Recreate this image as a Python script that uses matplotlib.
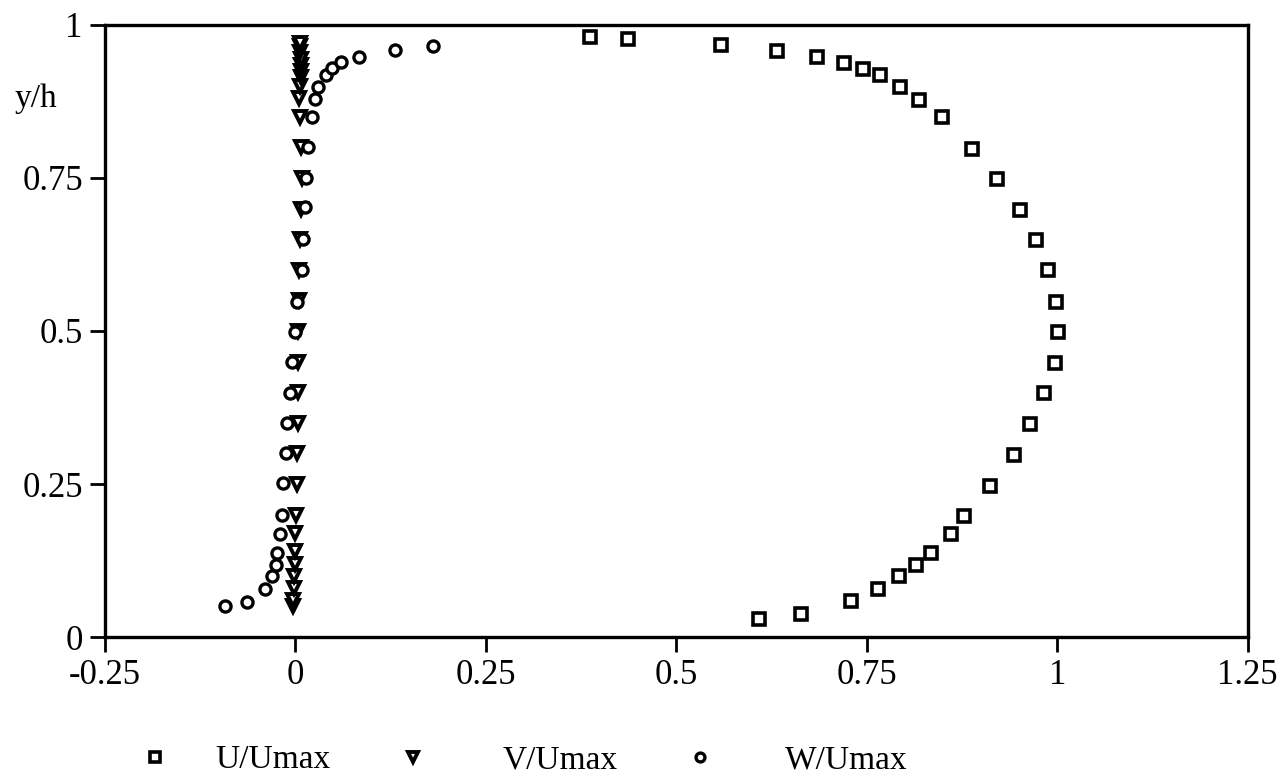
import matplotlib
matplotlib.use("Agg")
import matplotlib.pyplot as plt

plt.rcParams["font.family"] = ["Liberation Serif", "DejaVu Serif"]

# U/Umax profile (squares)
u_y = [0.980, 0.977, 0.967, 0.957, 0.947, 0.937, 0.928, 0.918, 0.898, 0.877,
       0.849, 0.798, 0.748, 0.698, 0.649, 0.600, 0.548, 0.499, 0.448, 0.398,
       0.348, 0.297, 0.247, 0.198, 0.168, 0.138, 0.118, 0.099, 0.078, 0.059,
       0.038, 0.029]
u_x = [0.386, 0.437, 0.559, 0.632, 0.684, 0.720, 0.745, 0.767, 0.794, 0.818,
       0.849, 0.888, 0.921, 0.951, 0.972, 0.988, 0.998, 1.001, 0.997, 0.983,
       0.964, 0.943, 0.912, 0.878, 0.860, 0.834, 0.814, 0.792, 0.765, 0.729,
       0.663, 0.609]

# V/Umax profile (triangles)
v_y = [0.05, 0.06, 0.08, 0.10, 0.12, 0.14, 0.17, 0.20, 0.25, 0.30, 0.35, 0.40,
       0.45, 0.50, 0.55, 0.60, 0.65, 0.70, 0.75, 0.80, 0.85, 0.88, 0.90, 0.915,
       0.925, 0.935, 0.945, 0.955, 0.965, 0.97]
v_x = [-0.003, -0.003, -0.002, -0.002, -0.001, -0.001, 0.000, 0.001, 0.002,
       0.002, 0.003, 0.003, 0.003, 0.003, 0.004, 0.005, 0.006, 0.007, 0.008,
       0.007, 0.006, 0.005, 0.006, 0.007, 0.007, 0.007, 0.007, 0.006, 0.006,
       0.006]

# W/Umax profile (circles)
w_y = [0.050, 0.058, 0.078, 0.100, 0.118, 0.138, 0.168, 0.199, 0.251, 0.300,
       0.349, 0.398, 0.450, 0.499, 0.548, 0.600, 0.650, 0.702, 0.750, 0.801,
       0.850, 0.879, 0.899, 0.918, 0.929, 0.939, 0.948, 0.959, 0.966]
w_x = [-0.092, -0.064, -0.040, -0.031, -0.025, -0.024, -0.020, -0.018, -0.016,
       -0.012, -0.011, -0.007, -0.005, 0.000, 0.002, 0.008, 0.0105, 0.013,
       0.014, 0.017, 0.0215, 0.026, 0.030, 0.040, 0.048, 0.060, 0.084, 0.131,
       0.181]

x_ticks = [-0.25, 0, 0.25, 0.5, 0.75, 1, 1.25]
x_labels = ["-0.25", "0", "0.25", "0.5", "0.75", "1", "1.25"]
y_ticks = [0, 0.25, 0.5, 0.75, 1]
y_labels = ["0", "0.25", "0.5", "0.75", "1"]

fig = plt.figure(figsize=(12.81, 7.76), dpi=100)
ax = fig.add_axes([0.082, 0.179, 0.892, 0.789])

style = dict(linestyle="none", color="black", markerfacecolor="white")
lu, = ax.plot(u_x, u_y, marker="s", markersize=8.5, markeredgewidth=2.6,
              label="U/Umax", **style)
lv, = ax.plot(v_x, v_y, marker="v", markersize=8.5, markeredgewidth=2.8,
              label="V/Umax", **style)
lw, = ax.plot(w_x, w_y, marker="o", markersize=8, markeredgewidth=2.4,
              label="W/Umax", **style)

ax.set_xlim(-0.25, 1.25)
ax.set_ylim(0, 1)
ax.set_xticks(x_ticks)
ax.set_xticklabels(x_labels)
ax.set_yticks(y_ticks)
ax.set_yticklabels(y_labels)
ax.tick_params(direction="out", length=11, width=2, labelsize=25, pad=5,
               top=False, right=False)
for sp in ax.spines.values():
    sp.set_linewidth(2.4)

fig.text(36 / 1281, 1 - 99 / 776, "y/h", fontsize=24, ha="center", va="center")

# legend entries spread along the bottom, one legend per series
for line, x0, pad in [(lu, 138, 1.31), (lv, 396, 2.21), (lw, 683, 2.06)]:
    fig.legend(handles=[line], loc="center left",
               bbox_to_anchor=(x0 / 1281, 1 - 760 / 776),
               frameon=False, fontsize=24, handlelength=1.0,
               markerscale=0.8, handletextpad=pad,
               borderpad=0, borderaxespad=0)

fig.savefig("out.png", dpi=100)
